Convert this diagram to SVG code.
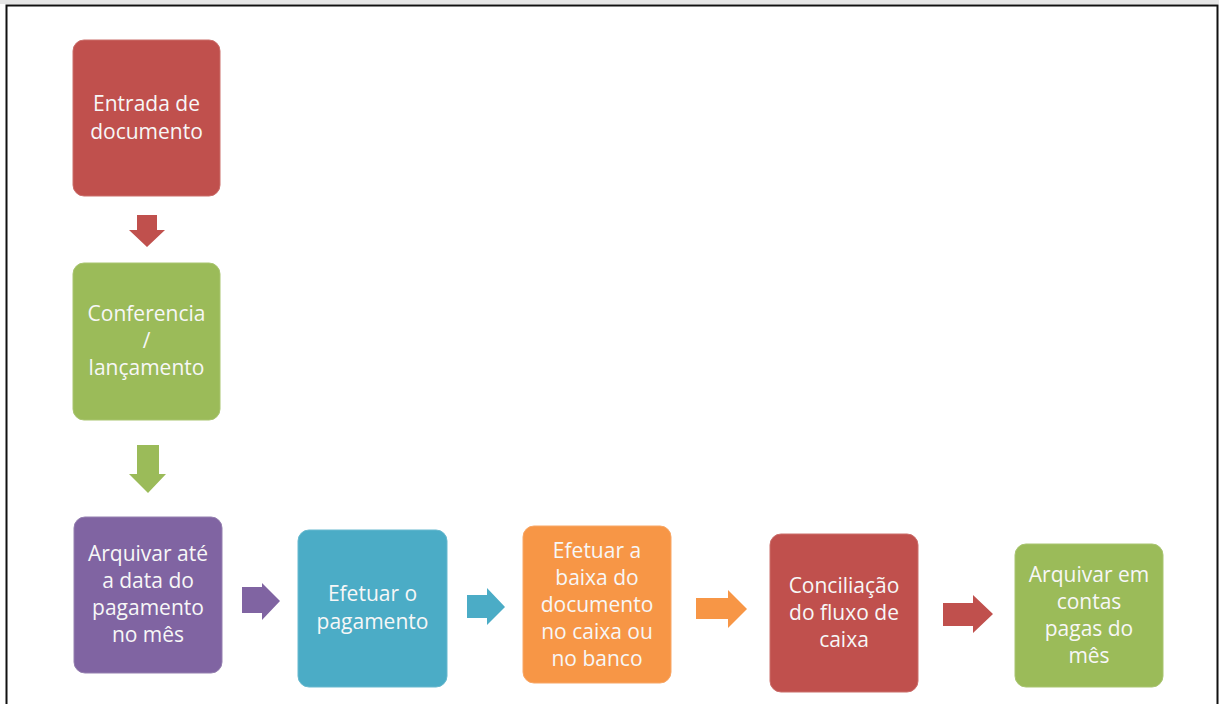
<svg xmlns="http://www.w3.org/2000/svg" width="1219" height="704" viewBox="0 0 1219 704">
  <style>
    .box { stroke-width: 1; }
    .red { fill: #C0504D; stroke: #CB6E6B; }
    .green { fill: #9BBB59; stroke: #A9C571; }
    .purple { fill: #8064A2; stroke: #9580B0; }
    .teal { fill: #4BACC6; stroke: #68B9CF; }
    .orange { fill: #F79646; stroke: #F8A766; }
    .lbl { font-family: "Open Sans", "Noto Sans", sans-serif; font-size: 21px; fill: #F7F7F7; text-anchor: middle; }
  </style>
  <rect x="0" y="0" width="1219" height="704" fill="#ffffff"/>
  <rect x="0" y="0" width="1219" height="4" fill="#E6E6E6"/>
  <!-- page frame, open at the bottom -->
  <path d="M6.5 704 V5.5 H1217.5 V704" fill="none" stroke="#111111" stroke-width="2"/>

  <g id="n1">
    <rect class="box red" x="73" y="40" width="147" height="156" rx="11"/>
    <text class="lbl"><tspan x="146.5" y="111">Entrada de</tspan><tspan x="146.5" y="139">documento</tspan></text>
  </g>
  <g id="n2">
    <rect class="box green" x="73" y="263" width="147" height="157" rx="11"/>
    <text class="lbl"><tspan x="146.5" y="321">Conferencia</tspan><tspan x="146.5" y="348">/</tspan><tspan x="146.5" y="375">lançamento</tspan></text>
  </g>
  <g id="n3">
    <rect class="box purple" x="74" y="517" width="148" height="156" rx="11"/>
    <text class="lbl"><tspan x="148" y="561">Arquivar até</tspan><tspan x="148" y="588">a data do</tspan><tspan x="148" y="615">pagamento</tspan><tspan x="148" y="642">no mês</tspan></text>
  </g>
  <g id="n4">
    <rect class="box teal" x="298" y="530" width="149" height="157" rx="11"/>
    <text class="lbl"><tspan x="372.5" y="601">Efetuar o</tspan><tspan x="372.5" y="629">pagamento</tspan></text>
  </g>
  <g id="n5">
    <rect class="box orange" x="523" y="526" width="148" height="157" rx="11"/>
    <text class="lbl"><tspan x="597" y="558">Efetuar a</tspan><tspan x="597" y="585">baixa do</tspan><tspan x="597" y="612">documento</tspan><tspan x="597" y="639">no caixa ou</tspan><tspan x="597" y="666">no banco</tspan></text>
  </g>
  <g id="n6">
    <rect class="box red" x="770" y="534" width="148" height="158" rx="11"/>
    <text class="lbl"><tspan x="844" y="593">Conciliação</tspan><tspan x="844" y="620">do fluxo de</tspan><tspan x="844" y="647">caixa</tspan></text>
  </g>
  <g id="n7">
    <rect class="box green" x="1015" y="544" width="148" height="143" rx="11"/>
    <text class="lbl"><tspan x="1089" y="582">Arquivar em</tspan><tspan x="1089" y="609">contas</tspan><tspan x="1089" y="636">pagas do</tspan><tspan x="1089" y="663">mês</tspan></text>
  </g>

  <g id="connectors">
    <!-- block arrows between the steps -->
    <polygon fill="#C0504D" points="137,215 157,215 157,230 165,230 147,247 129,230 137,230"/>
    <polygon fill="#9BBB59" points="137,445 159,445 159,474 166,474 148,493 129,474 137,474"/>
    <polygon fill="#8064A2" points="242,587 262,587 262,583 280,601 262,620 262,613 242,613"/>
    <polygon fill="#4BACC6" points="467,595 487,595 487,588 505,607 487,625 487,618 467,618"/>
    <polygon fill="#F79646" points="696,598 728,598 728,590 747,609 728,628 728,619 696,619"/>
    <polygon fill="#C0504D" points="943,603 973,603 973,595 993,614 973,633 973,626 943,626"/>
  </g>
</svg>
